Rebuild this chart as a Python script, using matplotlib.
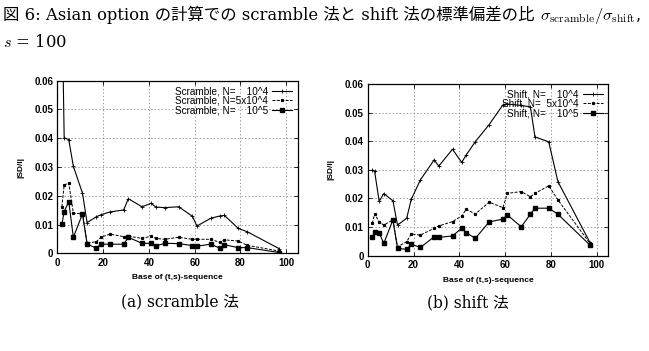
import matplotlib
matplotlib.use("Agg")
import matplotlib.pyplot as plt

plt.rcParams['mathtext.fontset'] = 'cm'

# bases of the (t,s)-sequence
base = [2, 3, 5, 7, 11, 13, 17, 19, 23, 29, 31, 37, 41, 43, 47, 53, 59, 61, 67, 71, 73, 79, 83, 97]

# (a) scramble
scr_1e4 = [0.090, 0.0402, 0.0395, 0.0303, 0.0209, 0.0107, 0.0127, 0.0134, 0.0144, 0.0151, 0.0190, 0.0162,
           0.0174, 0.0161, 0.0159, 0.0162, 0.0129, 0.0095, 0.0122, 0.0130, 0.0132, 0.0087, 0.0075, 0.0016]
scr_5e4 = [0.0162, 0.0237, 0.0245, 0.0140, 0.0137, 0.0037, 0.0040, 0.0056, 0.0067, 0.0058, 0.0060, 0.0052,
           0.0060, 0.0052, 0.0049, 0.0056, 0.0049, 0.0049, 0.0049, 0.0038, 0.0047, 0.0043, 0.0028, 0.0008]
scr_1e5 = [0.0101, 0.0145, 0.0180, 0.0056, 0.0137, 0.0033, 0.0018, 0.0032, 0.0032, 0.0032, 0.0056, 0.0035,
           0.0035, 0.0026, 0.0035, 0.0034, 0.0027, 0.0025, 0.0032, 0.0018, 0.0030, 0.0020, 0.0020, 0.0003]

# (b) shift
sft_1e4 = [0.0300, 0.0295, 0.0190, 0.0217, 0.0192, 0.0107, 0.0131, 0.0197, 0.0265, 0.0335, 0.0313, 0.0372,
           0.0326, 0.0352, 0.0399, 0.0458, 0.0527, 0.0530, 0.0525, 0.0520, 0.0415, 0.0398, 0.0259, 0.0046]
sft_5e4 = [0.0113, 0.0146, 0.0119, 0.0107, 0.0125, 0.0031, 0.0049, 0.0076, 0.0072, 0.0096, 0.0104, 0.0119,
           0.0139, 0.0162, 0.0146, 0.0187, 0.0168, 0.0218, 0.0224, 0.0206, 0.0218, 0.0244, 0.0195, 0.0043]
sft_1e5 = [0.0064, 0.0084, 0.0080, 0.0043, 0.0125, 0.0026, 0.0022, 0.0040, 0.0029, 0.0066, 0.0064, 0.0069,
           0.0096, 0.0080, 0.0061, 0.0118, 0.0128, 0.0142, 0.0101, 0.0145, 0.0166, 0.0166, 0.0145, 0.0037]

xticks = [0, 20, 40, 60, 80, 100]
yticks = [0, 0.01, 0.02, 0.03, 0.04, 0.05, 0.06]
ytick_labels = ['0', '0.01', '0.02', '0.03', '0.04', '0.05', '0.06']

cjk = ['DejaVu Serif', 'Noto Sans CJK JP']
gp_font = dict(family='Liberation Sans', weight='bold')
fs = 7

fig = plt.figure(figsize=(6.49, 3.51), dpi=100)


def panel(rect, s1, s2, s3, names):
    ax = fig.add_axes(rect)
    ax.plot(base, s1, color='k', lw=0.8, marker='+', ms=3, mew=0.6, label=names[0])
    ax.plot(base, s2, color='k', lw=0.7, ls=(0, (3, 1.5)), marker='s', ms=1.3, label=names[1])
    ax.plot(base, s3, color='k', lw=0.8, marker='s', ms=2.2, label=names[2])
    ax.set_xlim(0, 105)
    ax.set_ylim(0, 0.06)
    ax.set_xticks(xticks)
    ax.set_xticklabels([str(v) for v in xticks], fontdict=gp_font, fontsize=fs)
    ax.set_yticks(yticks)
    ax.set_yticklabels(ytick_labels, fontdict=gp_font, fontsize=fs)
    ax.tick_params(direction='in', top=True, right=True, length=3, width=0.6, pad=3)
    ax.grid(True, color='0.45', ls=(0, (2, 3)), lw=0.5)
    for sp in ax.spines.values():
        sp.set_linewidth(0.9)
    ax.set_xlabel('Base of (t,s)-sequence', fontdict=gp_font, fontsize=6, labelpad=5)
    ax.set_ylabel('|SD/I|', fontdict=gp_font, fontsize=6, labelpad=7)
    ax.legend(loc='upper right', frameon=False, markerfirst=False, handlelength=2.0,
              prop=dict(family='Liberation Sans', size=7.2), labelspacing=-0.05,
              borderaxespad=0.35, borderpad=0.2, handletextpad=0.4)
    return ax


panel([0.0883, 0.2781, 0.3704, 0.492], scr_1e4, scr_5e4, scr_1e5,
      ['Scramble, N=    10^4', 'Scramble, N=5x10^4', 'Scramble, N=    10^5'])
panel([0.5666, 0.2715, 0.3707, 0.4892], sft_1e4, sft_5e4, sft_1e5,
      ['Shift, N=    10^4', 'Shift, N=  5x10^4', 'Shift, N=    10^5'])

# caption: plain text first, then the math part right after it
t1 = fig.text(0.005, 0.943, '図 6: Asian option の計算での scramble 法と shift 法の標準偏差の比 ',
              family=cjk, fontsize=11.8, va='baseline', ha='left')
fig.canvas.draw()
bb = t1.get_window_extent().transformed(fig.transFigure.inverted())
fig.text(bb.x1, 0.943, r'$\sigma_{\mathrm{scramble}}/\sigma_{\mathrm{shift}}$,',
         fontsize=11.8, va='baseline', ha='left')
fig.text(0.005, 0.866, r'$s$ = 100', family=cjk, fontsize=11.8, va='baseline', ha='left')

fig.text(180 / 649, 1 - 302 / 351, '(a) scramble 法', family=cjk, fontsize=11.2, ha='center', va='center')
fig.text(468 / 649, 1 - 303 / 351, '(b) shift 法', family=cjk, fontsize=11.2, ha='center', va='center')

fig.savefig('out.png', dpi=100)
